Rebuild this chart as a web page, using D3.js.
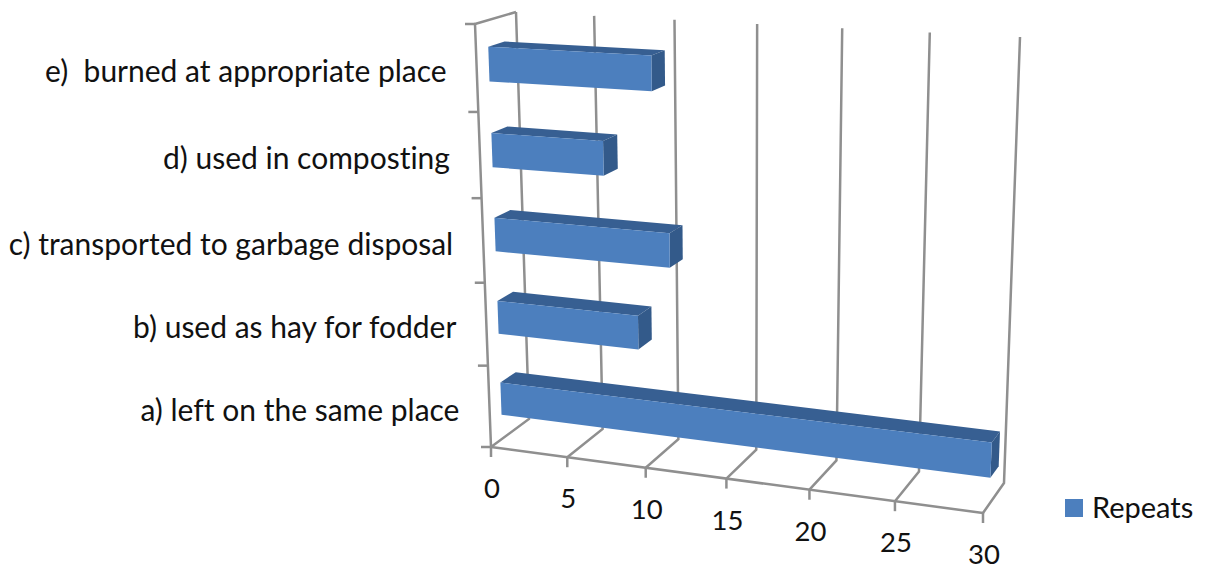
<!DOCTYPE html>
<html>
<head>
<meta charset="utf-8">
<script src="https://cdn.jsdelivr.net/npm/d3@7"></script>
<style>
  html, body { margin: 0; padding: 0; background: #fff; }
  svg { display: block; }
  text { font-family: Lato, "Open Sans", sans-serif; fill: #111; font-variant-ligatures: none; }
</style>
</head>
<body>
<svg id="chart" width="1205" height="570"></svg>
<script>
// Horizontal 3D bars: one series across five categories.
const categories = [
  "a) left on the same place",
  "b) used as hay for fodder",
  "c) transported to garbage disposal",
  "d) used in composting",
  "e)  burned at appropriate place"
];
const repeats = [30, 9, 11, 7, 10];
const valueTicks = [0, 5, 10, 15, 20, 25, 30];
const seriesName = "Repeats";

const W = 1205, H = 570;
const svg = d3.select("#chart").attr("viewBox", [0, 0, W, H]);

// Corners of the box on screen: f/b = front/back, l/r = left/right, b/t = bottom/top.
const box = {
  fbl: [491, 447], fbr: [983, 513], bbl: [529, 419], bbr: [1004, 483],
  ftl: [475, 24],  ftr: [1003, 50], btl: [516, 12],  btr: [1020, 37]
};
const mix = (a, b, t) => [a[0] + (b[0] - a[0]) * t, a[1] + (b[1] - a[1]) * t];

// Foreshortening along an edge of the box.
const foreshorten = r => u => u / (u + r * (1 - u));
const valueScale = d3.scaleLinear().domain([0, 30]).range([0, 1]);
const bandScale = d3.scaleBand().domain(categories).range([0, 1])
  .paddingInner(0.6).paddingOuter(0.3);
const alongValue = foreshorten(1.09);
const alongHeight = foreshorten(1.05);

// Value, height fraction and depth fraction to screen coordinates.
function project(v, h, d) {
  const t = alongValue(valueScale(v));
  const k = alongHeight(h);
  const front = mix(mix(box.fbl, box.fbr, t), mix(box.ftl, box.ftr, t), k);
  const back = mix(mix(box.bbl, box.bbr, t), mix(box.btl, box.btr, t), k);
  return mix(front, back, d);
}

const lineColor = "#8f8f8f";
const path = d3.line();
const grid = svg.append("g").attr("fill", "none")
  .attr("stroke", lineColor).attr("stroke-width", 2.5);
const stroke = pts => grid.append("path").attr("d", path(pts));

// Walls and floor grid.
valueTicks.forEach(v => {
  stroke([project(v, 0, 0), project(v, 0, 1), project(v, 1, 1)]);
  const p = project(v, 0, 0);
  stroke([p, [p[0], p[1] + 10]]);
});
stroke([project(0, 0, 0), project(30, 0, 0)]);
stroke([project(0, 0, 0), project(0, 1, 0), project(0, 1, 1)]);

// Category tick marks on the front-left edge.
d3.range(categories.length + 1).forEach(i => {
  const p = project(0, i / categories.length, 0);
  stroke([[p[0] - 10, p[1]], p]);
});

// Bars, each a front face, a top face and an end face.
const faces = [
  { color: "#375f92", pts: (v, lo, hi) => [[0, hi, .3], [v, hi, .3], [v, hi, .7], [0, hi, .7]] },
  { color: "#335a8a", pts: (v, lo, hi) => [[v, lo, .3], [v, hi, .3], [v, hi, .7], [v, lo, .7]] },
  { color: "#4c7fbe", pts: (v, lo, hi) => [[0, lo, .3], [v, lo, .3], [v, hi, .3], [0, hi, .3]] }
];
const bars = svg.append("g").selectAll("g")
  .data(categories.map((c, i) => ({ c, v: repeats[i] })))
  .join("g");
faces.forEach(face => {
  bars.append("path")
    .attr("fill", face.color)
    .attr("d", d => {
      const lo = bandScale(d.c), hi = lo + bandScale.bandwidth();
      return path(face.pts(d.v, lo, hi).map(q => project(...q))) + "Z";
    });
});

// Category labels.
svg.append("g").attr("text-anchor", "end").attr("font-size", 30)
  .selectAll("text").data(categories).join("text")
  .attr("xml:space", "preserve")
  .attr("x", c => project(0, bandScale(c) + bandScale.bandwidth() / 2, 0)[0] - 30)
  .attr("y", c => project(0, bandScale(c) + bandScale.bandwidth() / 2, 0)[1] + 14)
  .text(c => c);

// Value labels below the front edge.
svg.append("g").attr("text-anchor", "middle").attr("font-size", 27.5)
  .selectAll("text").data(valueTicks).join("text")
  .attr("x", v => project(v, 0, 0)[0] + 1)
  .attr("y", v => project(v, 0, 0)[1] + 51)
  .text(v => v);

// Legend.
const legend = svg.append("g");
legend.append("rect").attr("x", 1065).attr("y", 499).attr("width", 18).attr("height", 18).attr("fill", "#4c7fbe");
legend.append("text").attr("x", 1092).attr("y", 518).attr("font-size", 29).text(seriesName);
</script>
</body>
</html>
